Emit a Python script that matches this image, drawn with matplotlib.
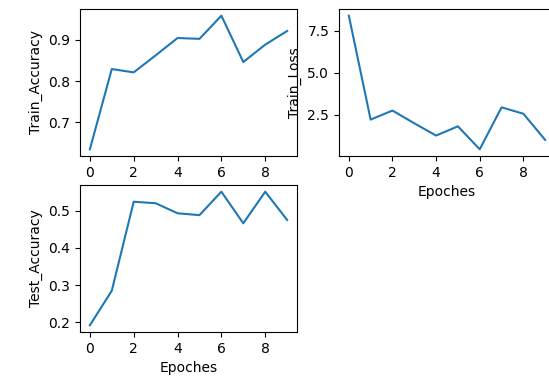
import matplotlib
matplotlib.use("Agg")
import matplotlib.pyplot as plt

epochs = list(range(10))
train_acc = [0.635, 0.829, 0.821, 0.862, 0.904, 0.902, 0.958, 0.846, 0.888, 0.921]
train_loss = [8.39, 2.2, 2.74, 1.98, 1.25, 1.8, 0.43, 2.93, 2.55, 0.99]
test_acc = [0.192, 0.285, 0.524, 0.52, 0.493, 0.488, 0.551, 0.466, 0.551, 0.475]
loss_ticks = [2.5, 5.0, 7.5]

W, H = 549, 379
fig = plt.figure(figsize=(W / 100, H / 100), dpi=100)

def box(left, right, top, bottom):
    return [left / W, 1 - bottom / H, (right - left) / W, (bottom - top) / H]

ax1 = fig.add_axes(box(80, 297, 9, 156))
ax1.plot(epochs, train_acc)
ax1.set_ylabel("Train_Accuracy")

ax2 = fig.add_axes(box(339, 555, 9, 156))
ax2.plot(epochs, train_loss)
ax2.set_yticks(loss_ticks)
ax2.set_ylabel("Train_Loss")
ax2.set_xlabel("Epoches")

ax3 = fig.add_axes(box(80, 297, 185, 332))
ax3.plot(epochs, test_acc)
ax3.set_ylabel("Test_Accuracy")
ax3.set_xlabel("Epoches")

fig.savefig("out.png", dpi=100)
